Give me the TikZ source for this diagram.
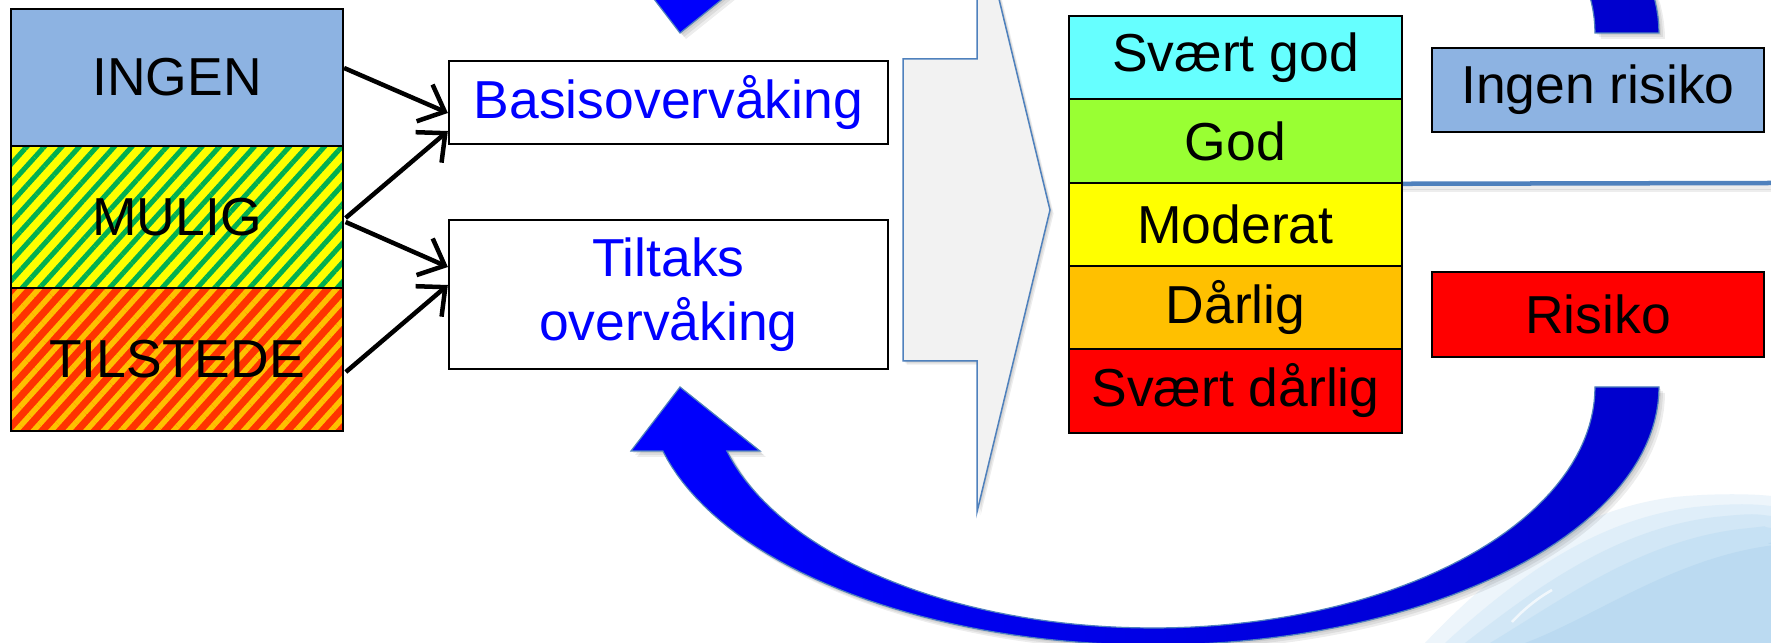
\documentclass[tikz,border=0pt]{standalone}
\usepackage{fontspec}
\setmainfont{Liberation Sans}
\usetikzlibrary{arrows.meta,patterns.meta}

\definecolor{paleblue}{HTML}{8DB3E2}
\definecolor{hatchgreen}{HTML}{00B050}
\definecolor{hatchyellow}{HTML}{FFFF00}
\definecolor{hatchred}{HTML}{FF3300}
\definecolor{hatchorange}{HTML}{FFC000}
\definecolor{svgod}{HTML}{66FFFF}
\definecolor{godgreen}{HTML}{99FF33}
\definecolor{modyellow}{HTML}{FFFF00}
\definecolor{darorange}{HTML}{FFC000}
\definecolor{svred}{HTML}{FF0000}
\definecolor{steel}{HTML}{4F81BD}
\definecolor{arrowgray}{HTML}{F2F2F2}
\definecolor{brightblue}{HTML}{0000FF}
\definecolor{deepblue}{HTML}{0000CC}
\definecolor{hazeA}{HTML}{EDF5FB}
\definecolor{hazeB}{HTML}{DFEEF9}
\definecolor{hazeC}{HTML}{D2E7F6}
\definecolor{hazeD}{HTML}{C6E1F4}
\definecolor{hazeE}{HTML}{BBDAF1}

% curved return arrow below the boxes (pixel units, y pointing down)
\newcommand{\lowerloop}{%
  (1659,387) -- plot[domain=0:165.64,samples=90] ({1153+506*cos(\x)},{387+258*sin(\x)})
  -- (631,451) -- (680,387) -- (760,451) -- (727,451)
  -- plot[domain=164.6:0,samples=90] ({1153+442*cos(\x)},{387+241*sin(\x)}) -- cycle}
% its mirror image above the boxes
\newcommand{\upperloop}{%
  (1659,33) -- plot[domain=0:165.64,samples=90] ({1153+506*cos(\x)},{33-258*sin(\x)})
  -- (631,-31) -- (680,33) -- (760,-31) -- (727,-31)
  -- plot[domain=164.6:0,samples=90] ({1153+442*cos(\x)},{33-241*sin(\x)}) -- cycle}
% grey block arrow
\newcommand{\blockarrow}{%
  (903,59) -- (977,59) -- (977,-92) -- (1050,210) -- (977,512) -- (977,361) -- (903,361) -- cycle}
% outline of the pale wave in the corner
\newcommand{\wave}[2]{%
  ({1440+#1},643) .. controls ({1510+#1},{575+#2}) and ({1590+#1},{515+#2}) .. ({1690+#1},{503+#2})
  .. controls ({1730+#1},{499+#2}) and (1755,{500+#2}) .. (1771,{502+#2}) -- (1771,643) -- cycle}

\tikzset{
  txt/.style={font=\fontsize{15.2}{18.2}\selectfont},
  cell/.style={txt, draw=black, line width=0.02cm, inner sep=0pt, align=center},
  leftcell/.style={cell, minimum width=3.32cm},
  rightcell/.style={cell, minimum width=3.33cm, minimum height=0.835cm},
  riskbox/.style={cell, minimum width=3.32cm},
  monbox/.style={cell, fill=white, text=brightblue, minimum width=4.39cm},
  feed/.style={line width=0.045cm, black, -{Straight Barb[length=0.22cm,width=0.4cm,line width=0.045cm]}},
  loop/.style={left color=brightblue, right color=deepblue, draw=steel, line width=0.012cm},
  shade1/.style={fill=black, opacity=0.07},
}

\begin{document}
\begin{tikzpicture}[x=0.01cm,y=-0.01cm]
\useasboundingbox (0,0) rectangle (1771,643);
\clip (0,0) rectangle (1771,643);
\fill[white] (0,0) rectangle (1771,643);

% pale background wave in the lower right corner, darkening towards the corner
\fill[hazeA] \wave{-15}{-6};
\fill[hazeB] \wave{5}{4};
\fill[hazeC] \wave{25}{14};
\fill[hazeD] \wave{50}{26};
\fill[hazeE] \wave{85}{42};
\draw[white, line width=0.025cm, opacity=0.7] (1512,622) .. controls (1525,608) and (1538,598) .. (1552,590);

% soft shadows
\foreach \s in {2,4,6} {
  \fill[shade1, shift={(\s,\s)}] \lowerloop;
  \fill[shade1, shift={(\s,\s)}] \upperloop;
  \fill[shade1, shift={(\s*0.6,\s*0.6)}] \blockarrow;
  \fill[shade1] (1402,{183+\s}) rectangle (1771,{185+\s*1.2});
}

% grey block arrow between the columns
\path[fill=arrowgray, draw=steel, line width=0.015cm] \blockarrow;

% curved blue arrows
\path[loop] \lowerloop;
\path[loop] \upperloop;

% left column
\node[leftcell, fill=paleblue, minimum height=1.37cm] (ingen) at (177,77.5) {INGEN};
\node[leftcell, minimum height=1.42cm, preaction={fill=hatchyellow},
      pattern={Lines[angle=48,distance=0.13cm,line width=0.05cm]}, pattern color=hatchgreen]
      (mulig) at (177,217) {MULIG};
\node[leftcell, minimum height=1.43cm, preaction={fill=hatchred},
      pattern={Lines[angle=48,distance=0.13cm,line width=0.055cm]}, pattern color=hatchorange]
      (tilstede) at (177,359.5) {TILSTEDE};

% monitoring boxes
\node[monbox, minimum height=0.83cm] (basis) at (668.5,102.5) {Basisovervåking};
\node[monbox, minimum height=1.49cm] (tiltak) at (668.5,294.5) {Tiltaks\\overvåking};

% connectors
\draw[feed] ([yshift=0.095cm]ingen.east) -- ([yshift=-0.105cm]basis.west);
\draw[feed] ([yshift=-0.01cm]mulig.east) -- ([yshift=-0.285cm]basis.west);
\draw[feed] ([yshift=-0.05cm]mulig.east) -- ([yshift=0.275cm]tiltak.west);
\draw[feed] ([yshift=-0.125cm]tilstede.east) -- ([yshift=0.095cm]tiltak.west);

% status classes
\node[rightcell, fill=svgod] (sg) at (1235.5,57.5) {Svært god};
\node[rightcell, fill=godgreen] (gd) at (1235.5,141) {God};
\node[rightcell, fill=modyellow] (md) at (1235.5,224.5) {Moderat};
\node[rightcell, fill=darorange] (dl) at (1235.5,307.5) {Dårlig};
\node[rightcell, fill=svred] (sd) at (1235.5,391) {Svært dårlig};

% risk boxes
\node[riskbox, fill=paleblue, minimum height=0.84cm] (ingenrisiko) at (1598,90) {Ingen risiko};
\node[riskbox, fill=svred, minimum height=0.85cm] (risiko) at (1598,314.5) {Risiko};

% divider between the risk classes
\coordinate (edge) at (1771,183);
\draw[steel, line width=0.045cm] (gd.south east) -- (edge);
\end{tikzpicture}
\end{document}
